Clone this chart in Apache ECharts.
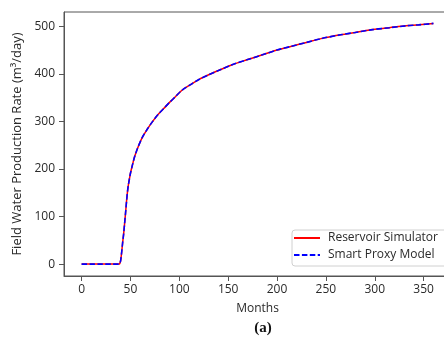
<!DOCTYPE html>
<html>
<head>
<meta charset="utf-8">
<script src="https://cdn.jsdelivr.net/npm/echarts@6/dist/echarts.min.js"></script>
<style>
  html, body { margin: 0; padding: 0; background: #fff; overflow: hidden; width: 444px; height: 341px; }
  /* canvas runs a little past the right edge so the frame's right side falls outside the view */
  #chart { width: 452px; height: 341px; }
</style>
</head>
<body>
<div id="chart"></div>
<script>
// Field water production rate over time: simulator run vs. proxy model
const months = [0, 10, 20, 30, 38, 39, 40, 41, 42, 43, 44, 45, 46, 47, 48, 49, 50, 52, 54, 57, 62, 67, 72, 78, 84, 90, 96, 103, 112, 120, 130, 140, 154, 170, 185, 200, 215, 230, 245, 265, 280, 298, 315, 332, 345, 360];
const simulator = [0, 0, 0, 0, 0, 1, 8, 25, 45, 63, 85, 108, 132, 153, 168, 180, 191, 208, 224, 242, 266, 283, 298, 314, 327, 340, 352, 366, 378, 388, 398, 407, 419, 430, 440, 450, 458, 466, 474, 482, 487, 493, 497, 501, 503, 506];
const proxy = [0, 0, 0, 0, 0, 1, 8, 25, 45, 63, 85, 108, 132, 153, 168, 180, 191, 208, 224, 242, 266, 283, 298, 314, 327, 340, 352, 366, 378, 388, 398, 407, 419, 430, 440, 450, 458, 466, 474, 482, 487, 493, 497, 501, 503, 506];
const xTicks = [0, 50, 100, 150, 200, 250, 300, 350];
const yTicks = [0, 100, 200, 300, 400, 500];

const pair = (xs, ys) => xs.map((x, i) => [x, ys[i]]);
const FONT = 'Open Sans';
const INK = '#2a2a2a';

const chart = echarts.init(document.getElementById('chart'), null, { renderer: 'canvas' });
chart.setOption({
  animation: false,
  backgroundColor: '#fff',
  title: {
    text: '(a)',
    left: 258, top: 316, textAlign: 'center',
    textStyle: { fontFamily: 'Liberation Serif', fontWeight: 'bold', fontSize: 15, color: '#111' }
  },
  grid: {
    left: 64, top: 12, right: 1, bottom: 65,
    show: true, borderColor: '#555', borderWidth: 1, backgroundColor: '#fff'
  },
  xAxis: {
    type: 'value', min: -18, max: 378,
    name: 'Months', nameLocation: 'middle', nameGap: 27,
    nameTextStyle: { fontFamily: FONT, fontSize: 12, color: INK },
    axisLine: { show: true, onZero: false, lineStyle: { color: '#555', width: 1 } },
    axisTick: { show: true, length: 5, lineStyle: { color: '#555' }, customValues: xTicks },
    axisLabel: { fontFamily: FONT, fontSize: 12, color: INK, margin: 8, customValues: xTicks },
    splitLine: { show: false }
  },
  yAxis: {
    type: 'value', min: -25, max: 530,
    name: 'Field Water Production Rate (m³/day)', nameLocation: 'middle', nameGap: 38,
    nameTextStyle: { fontFamily: FONT, fontSize: 13, color: INK },
    axisLine: { show: true, onZero: false, lineStyle: { color: '#555', width: 1 } },
    axisTick: { show: true, length: 5, lineStyle: { color: '#555' }, customValues: yTicks },
    axisLabel: { fontFamily: FONT, fontSize: 12, color: INK, margin: 9, customValues: yTicks },
    splitLine: { show: false }
  },
  legend: {
    orient: 'vertical', left: 292, top: 230,
    padding: [2, 24, 5, 1], itemGap: 5, itemWidth: 26, itemHeight: 14,
    backgroundColor: '#fff', borderColor: '#d0d0d0', borderWidth: 1, borderRadius: 3,
    itemStyle: { opacity: 0 },
    textStyle: { fontFamily: FONT, fontSize: 12, color: INK, padding: [0, 0, 0, 3] },
    data: ['Reservoir Simulator', 'Smart Proxy Model']
  },
  series: [
    {
      name: 'Reservoir Simulator', type: 'line', data: pair(months, simulator),
      symbol: 'none', smooth: 0.3, color: '#ff0000',
      lineStyle: { color: '#ff0000', width: 1.5 }, z: 2
    },
    {
      name: 'Smart Proxy Model', type: 'line', data: pair(months, proxy),
      symbol: 'none', smooth: 0.3, color: '#0000ff',
      lineStyle: { color: '#0000ff', width: 1.6, type: [5.5, 2.4] }, z: 3
    }
  ]
});
</script>
</body>
</html>
